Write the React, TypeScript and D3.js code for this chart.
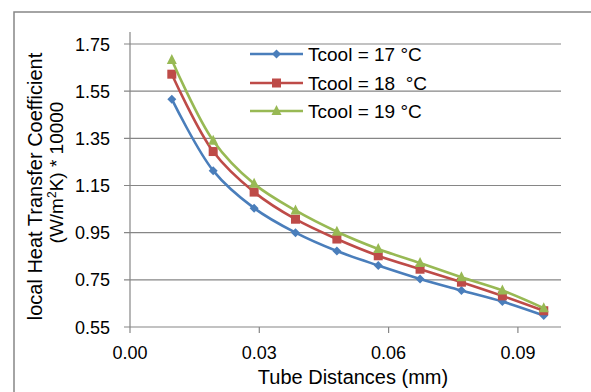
import React from "react";
import * as d3 from "d3";

const xValues = [0.0097, 0.0193, 0.0288, 0.0384, 0.048, 0.0576, 0.0673, 0.0769, 0.0864, 0.096];
const seriesNames = ["Tcool = 17 \u00B0C", "Tcool = 18 \u00A0\u00B0C", "Tcool = 19 \u00B0C"];
const t17 = [1.516, 1.213, 1.054, 0.95, 0.872, 0.811, 0.754, 0.705, 0.658, 0.599];
const t18 = [1.622, 1.294, 1.122, 1.007, 0.923, 0.852, 0.795, 0.74, 0.682, 0.619];
const t19 = [1.682, 1.34, 1.157, 1.044, 0.954, 0.881, 0.821, 0.761, 0.705, 0.63];
const yTicks = [0.55, 0.75, 0.95, 1.15, 1.35, 1.55, 1.75];
const xTicks = [0, 0.03, 0.06, 0.09];

const colors = ["#4A7EBB", "#BE4B48", "#98B954"];
const markers = ["diamond", "square", "triangle"];

const W = 591;
const H = 392;
const font = "'Liberation Sans', Arial, sans-serif";

function Marker({ type, x, y, color }: { type: string; x: number; y: number; color: string }) {
  if (type === "diamond") {
    const s = 4.5;
    return <path d={`M${x},${y - s}L${x + s},${y}L${x},${y + s}L${x - s},${y}Z`} fill={color} />;
  }
  if (type === "square") {
    const s = 4.5;
    return <rect x={x - s} y={y - s} width={2 * s} height={2 * s} fill={color} />;
  }
  const s = 5;
  return <path d={`M${x},${y - s - 1}L${x + s},${y + s - 1}L${x - s},${y + s - 1}Z`} fill={color} />;
}

export default function App() {
  const x = d3.scaleLinear().domain([0, 0.1]).range([130, 561]);
  const y = d3.scaleLinear().domain([0.55, 1.75]).range([327, 44]);
  const series = [t17, t18, t19];
  const line = d3
    .line<number>()
    .x((_, i) => x(xValues[i]))
    .y((d) => y(d))
    .curve(d3.curveCatmullRom.alpha(0.5));

  const legendY = [54, 83, 111];

  return (
    <svg width={W} height={H} style={{ position: "absolute", left: 0, top: 0 }}>
      <rect x={0} y={0} width={W} height={H} fill="#fff" />
      <rect x={14} y={12} width={W + 10} height={H + 10} fill="none" stroke="#868686" strokeWidth={1.5} />
      {yTicks.map((t) => (
        <g key={t}>
          <line x1={124} x2={561} y1={y(t)} y2={y(t)} stroke="#868686" strokeWidth={1.2} />
          <text x={110} y={y(t) + 6.5} textAnchor="end" fontFamily={font} fontSize={18} fill="#000">
            {t.toFixed(2)}
          </text>
        </g>
      ))}
      <line x1={130} x2={130} y1={y(1.75) - 12} y2={327} stroke="#868686" strokeWidth={1.2} />
      {xTicks.map((t) => (
        <g key={t}>
          <line x1={x(t)} x2={x(t)} y1={327} y2={333} stroke="#868686" strokeWidth={1.2} />
          <text x={x(t)} y={359} textAnchor="middle" fontFamily={font} fontSize={18} fill="#000">
            {t.toFixed(2)}
          </text>
        </g>
      ))}
      {series.map((s, k) => (
        <g key={k}>
          <path d={line(s) || ""} fill="none" stroke={colors[k]} strokeWidth={2.6} />
          {s.map((v, i) => (
            <Marker key={i} type={markers[k]} x={x(xValues[i])} y={y(v)} color={colors[k]} />
          ))}
        </g>
      ))}
      {seriesNames.map((n, k) => (
        <g key={n}>
          <line x1={250} x2={303} y1={legendY[k]} y2={legendY[k]} stroke={colors[k]} strokeWidth={2.6} />
          <Marker type={markers[k]} x={276.5} y={legendY[k]} color={colors[k]} />
          <text x={308} y={legendY[k] + 6.5} fontFamily={font} fontSize={19} fill="#000">
            {n}
          </text>
        </g>
      ))}
      <text x={353} y={384} textAnchor="middle" fontFamily={font} fontSize={20} fill="#000">
        Tube Distances (mm)
      </text>
      <g transform="translate(42,186.5) rotate(-90)">
        <text x={0} y={0} textAnchor="middle" fontFamily={font} fontSize={20} fill="#000">
          local Heat Transfer Coefficient
        </text>
      </g>
      <g transform="translate(63,172.5) rotate(-90)">
        <text x={0} y={0} textAnchor="middle" fontFamily={font} fontSize={19} fill="#000">
          (W/m<tspan dy={-7} fontSize={12}>2</tspan>
          <tspan dy={7}>K) * 10000</tspan>
        </text>
      </g>
    </svg>
  );
}
